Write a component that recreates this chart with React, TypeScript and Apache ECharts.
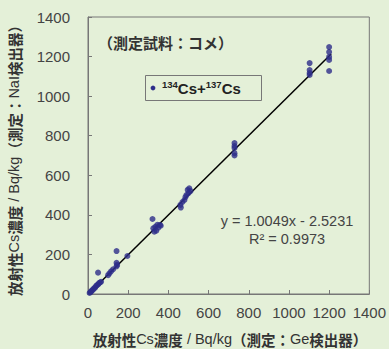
import React, { useEffect, useRef } from "react";
import * as echarts from "echarts";

const xTicks = [0, 200, 400, 600, 800, 1000, 1200, 1400];
const yTicks = [0, 200, 400, 600, 800, 1000, 1200, 1400];

const geValues = [
  8, 12, 15, 20, 25, 30, 35, 40, 45, 50, 55, 60, 65, 50,
  100, 107, 115, 125, 142, 142, 145, 142, 196,
  321, 325, 330, 335, 340, 345, 350, 358, 362,
  460, 462, 470, 480, 485, 490, 496, 500, 504, 510,
  729, 729, 729, 729, 729,
  1103, 1103, 1103, 1103,
  1200, 1200, 1200, 1200, 1200,
];
const naiValues = [
  5, 10, 12, 18, 22, 28, 32, 40, 45, 48, 55, 58, 62, 108,
  95, 105, 115, 125, 217, 158, 147, 140, 192,
  379, 332, 315, 340, 320, 350, 335, 349, 345,
  450, 437, 465, 475, 490, 500, 526, 510, 534, 520,
  763, 748, 738, 712, 700,
  1167, 1132, 1117, 1107,
  1248, 1223, 1198, 1183, 1127,
];

const slope = 1.0049;
const intercept = -2.5231;
const fitRange = [10, 1210];

const title = "（測定試料：コメ）";
const equation = "y = 1.0049x - 2.5231";
const rSquared = "R² = 0.9973";

export default function App() {
  const ref = useRef<HTMLDivElement>(null);
  useEffect(() => {
    if (!ref.current) return;
    const chart = echarts.init(ref.current, null, { renderer: "svg" });
    const points = geValues.map((x, i) => [x, naiValues[i]]);
    const fit = fitRange.map((x) => [x, slope * x + intercept]);
    const bold = { fontWeight: "bold", fontSize: 14.5, fontFamily: "Noto Sans CJK JP", fill: "#333" };
    const reg = { fontWeight: "normal", fontSize: 14.5, fontFamily: "Liberation Sans", fill: "#333" };
    chart.setOption({
      animation: false,
      backgroundColor: "#e4f0d8",
      grid: { left: 88, top: 17, right: 13, bottom: 55, show: true, borderColor: "#777", borderWidth: 1 },
      xAxis: {
        type: "value",
        min: xTicks[0],
        max: xTicks[xTicks.length - 1],
        interval: 200,
        axisLine: { lineStyle: { color: "#777" } },
        axisTick: { inside: true, length: 4, lineStyle: { color: "#777" } },
        splitLine: { show: false },
        axisLabel: { color: "#444", fontSize: 15, fontFamily: "Liberation Sans", margin: 11, formatter: (v: number) => String(v) },
      },
      yAxis: {
        type: "value",
        min: yTicks[0],
        max: yTicks[yTicks.length - 1],
        interval: 200,
        axisLine: { show: true, lineStyle: { color: "#777" } },
        axisTick: { show: true, inside: true, length: 4, lineStyle: { color: "#777" } },
        splitLine: { show: false },
        axisLabel: { color: "#444", fontSize: 15, fontFamily: "Liberation Sans", margin: 18, formatter: (v: number) => String(v) },
      },
      series: [
        {
          type: "line",
          data: fit,
          showSymbol: false,
          symbol: "none",
          lineStyle: { color: "#000", width: 1.5 },
          z: 2,
        },
        {
          type: "scatter",
          data: points,
          symbolSize: 6,
          itemStyle: { color: "#2d2d8a" },
          z: 3,
        },
      ],
      graphic: [
        {
          type: "text",
          x: 98,
          y: 42,
          style: { text: title, fontSize: 15, fontWeight: "bold", fontFamily: "Noto Sans CJK JP", fill: "#333", verticalAlign: "middle" },
        },
        {
          type: "rect",
          shape: { x: 145.5, y: 75.5, width: 116, height: 25 },
          style: { fill: "none", stroke: "#777", lineWidth: 1 },
        },
        {
          type: "circle",
          shape: { cx: 153, cy: 88, r: 2.4 },
          style: { fill: "#2d2d8a" },
        },
        {
          type: "text",
          x: 162,
          y: 88,
          style: {
            text: "{s|134}{n|Cs+}{s|137}{n|Cs}",
            verticalAlign: "middle",
            rich: {
              s: { fontSize: 9.5, fontWeight: "bold", fontFamily: "Liberation Sans", fill: "#222", verticalAlign: "top", padding: [0, 0, 7, 0] },
              n: { fontSize: 15, fontWeight: "bold", fontFamily: "Liberation Sans", fill: "#222" },
            },
          },
        },
        {
          type: "text",
          x: 287,
          y: 221,
          style: { text: equation, fontSize: 14.5, fontFamily: "Liberation Sans", fill: "#444", align: "center", verticalAlign: "middle" },
        },
        {
          type: "text",
          x: 287,
          y: 239,
          style: { text: rSquared, fontSize: 14.5, fontFamily: "Liberation Sans", fill: "#444", align: "center", verticalAlign: "middle" },
        },
        {
          type: "text",
          x: 230,
          y: 339,
          style: {
            text: "{b|放射性}{r|Cs}{b|濃度}{r| / Bq/kg}{b|（測定：}{r|Ge}{b|検出器）}",
            align: "center",
            verticalAlign: "middle",
            rich: { b: bold, r: reg },
          },
        },
        {
          type: "text",
          x: 14,
          y: 157,
          rotation: Math.PI / 2,
          style: {
            text: "{b|放射性}{r|Cs}{b|濃度}{r| / Bq/kg}{b|（測定：}{r|NaI}{b|検出器）}",
            align: "center",
            verticalAlign: "middle",
            rich: { b: bold, r: reg },
          },
        },
      ],
    });
    return () => chart.dispose();
  }, []);
  return <div ref={ref} style={{ position: "fixed", left: 0, top: 0, width: 389, height: 349 }} />;
}
